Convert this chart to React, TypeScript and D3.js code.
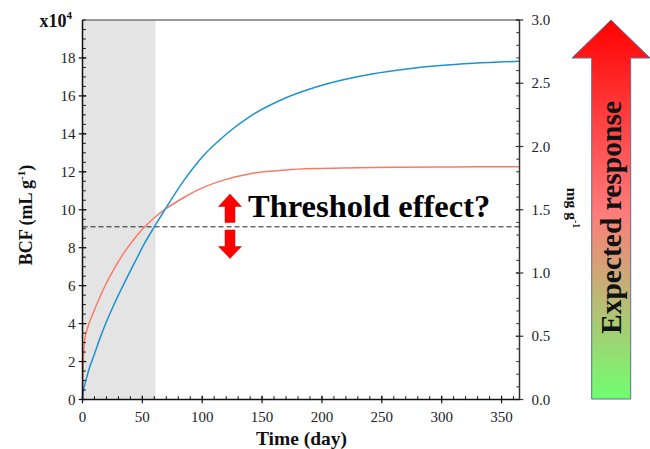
import React from "react";
import * as d3 from "d3";

const timeDays = [0, 0.5, 1, 2, 3.5, 5, 10, 15, 20, 27, 35, 45, 52, 60, 68, 84, 100, 120, 140, 170, 200, 243, 271, 299, 327, 365];
const redSeries = [0, 1.68, 2.52, 3.23, 3.62, 3.92, 4.73, 5.47, 6.14, 6.95, 7.77, 8.6, 9.1, 9.58, 9.98, 10.62, 11.15, 11.6, 11.9, 12.1, 12.18, 12.23, 12.24, 12.25, 12.26, 12.27];
const blueSeries = [0, 0.35, 0.55, 0.8, 1.15, 1.5, 2.4, 3.3, 4.1, 5.1, 6.15, 7.4, 8.25, 9.1, 9.92, 11.48, 12.78, 13.98, 14.92, 15.9, 16.56, 17.17, 17.42, 17.6, 17.72, 17.83];
const xTicks = [0, 50, 100, 150, 200, 250, 300, 350];
const leftTicks = [0, 2, 4, 6, 8, 10, 12, 14, 16, 18];
const rightTicks = [0, 0.5, 1.0, 1.5, 2.0, 2.5, 3.0];
const shadeRange = [0, 61];
const thresholdValue = 9.1;

const FONT = "'Liberation Serif', 'Times New Roman', serif";

export default function App() {
  const L = 82.5, R = 519.5, T = 20, B = 399.5;
  const x = d3.scaleLinear().domain([0, 365]).range([L, R]);
  const y = d3.scaleLinear().domain([0, 20]).range([B, T]);
  const y2 = d3.scaleLinear().domain([0, 3]).range([B, T]);

  const line = (vals: number[]) =>
    d3.line<number>().x((_, i) => x(timeDays[i])).y((v) => y(v)).curve(d3.curveMonotoneX)(vals) || "";

  const xMinor = d3.range(0, 361, 10);
  const yMinor = d3.range(0, 20.01, 0.5);
  const y2Minor = d3.range(0, 3.001, 0.1);

  const arrowPath = "M572,58 L611,20 L650,58 L630.7,58 L630.7,399 L591.7,399 L591.7,58 Z";
  const upArrow = "M230,194 L241.5,206.5 L235,206.5 L235,222.5 L225,222.5 L225,206.5 L218.5,206.5 Z";
  const downArrow = "M225,230 L235,230 L235,246.5 L241.5,246.5 L230,258.5 L218.5,246.5 L225,246.5 Z";

  return (
    <svg width={650} height={449} style={{ position: "absolute", left: 0, top: 0, background: "#fff", fontFamily: FONT }}>
      <defs>
        <linearGradient id="bigGrad" x1="0" y1="0" x2="0" y2="1">
          <stop offset="0" stopColor="#ff0000" />
          <stop offset="0.5" stopColor="#ff7a7a" />
          <stop offset="1" stopColor="#70ff70" />
        </linearGradient>
      </defs>
      {/* shaded region */}
      <rect x={x(shadeRange[0])} y={T} width={x(shadeRange[1]) - x(shadeRange[0])} height={B - T} fill="#e4e4e4" />
      {/* top border */}
      <line x1={L} x2={R} y1={T} y2={T} stroke="#7a7a7a" strokeWidth={1.5} />
      {/* threshold dashed */}
      <line x1={L} x2={R} y1={y(thresholdValue)} y2={y(thresholdValue)} stroke="#222" strokeWidth={1} strokeDasharray="5,3" />
      {/* curves */}
      <path d={line(redSeries)} fill="none" stroke="#fa7a68" strokeWidth={1.5} />
      <path d={line(blueSeries)} fill="none" stroke="#1c93d0" strokeWidth={1.5} />

      {/* left axis */}
      <line x1={L} x2={L} y1={T} y2={B} stroke="#111" strokeWidth={1.5} />
      {yMinor.map((v) => (
        <line key={"lm" + v} x1={L} x2={L + 3.3} y1={y(v)} y2={y(v)} stroke="#111" strokeWidth={1} />
      ))}
      {leftTicks.map((v) => (
        <g key={"l" + v}>
          <line x1={L - 3.8} x2={L + 3.8} y1={y(v)} y2={y(v)} stroke="#111" strokeWidth={1.2} />
          <text x={L - 7} y={y(v)} dy="0.34em" textAnchor="end" fontSize={15} fill="#222" style={{ fontFamily: FONT }}>{v}</text>
        </g>
      ))}
      {/* right axis */}
      <line x1={R} x2={R} y1={T} y2={B} stroke="#333" strokeWidth={1.5} />
      {y2Minor.map((v) => (
        <line key={"rm" + v} x1={R - 3.3} x2={R} y1={y2(v)} y2={y2(v)} stroke="#333" strokeWidth={1} />
      ))}
      {rightTicks.map((v) => (
        <g key={"r" + v}>
          <line x1={R - 3.8} x2={R + 3.8} y1={y2(v)} y2={y2(v)} stroke="#333" strokeWidth={1.2} />
          <text x={R + 12} y={y2(v)} dy="0.34em" textAnchor="start" fontSize={15} fill="#222" style={{ fontFamily: FONT }}>{v.toFixed(1)}</text>
        </g>
      ))}
      {/* bottom axis */}
      <line x1={L} x2={R} y1={B} y2={B} stroke="#111" strokeWidth={1.5} />
      {xMinor.map((v) => (
        <line key={"xm" + v} x1={x(v)} x2={x(v)} y1={B - 3.3} y2={B} stroke="#111" strokeWidth={1} />
      ))}
      {xTicks.map((v) => (
        <g key={"x" + v}>
          <line x1={x(v)} x2={x(v)} y1={B - 3.8} y2={B + 3.8} stroke="#111" strokeWidth={1.2} />
          <text x={x(v)} y={421.5} textAnchor="middle" fontSize={15} fill="#222" style={{ fontFamily: FONT }}>{v}</text>
        </g>
      ))}

      {/* axis titles */}
      <text x={301.5} y={445} textAnchor="middle" fontSize={19.5} fontWeight="bold" fill="#111" style={{ fontFamily: FONT }}>Time (day)</text>
      <text transform="translate(32,215) rotate(-90)" textAnchor="middle" fontSize={18} fontWeight="bold" fill="#111" style={{ fontFamily: FONT }}>
        BCF (mL g<tspan dy="-7" fontSize={11}>-1</tspan><tspan dy="7">)</tspan>
      </text>
      <text x={39.5} y={26.7} fontSize={18} fontWeight="bold" fill="#111" style={{ fontFamily: FONT }}>
        x10<tspan dy="-8" fontSize={11}>4</tspan>
      </text>
      <text transform="translate(567,208) rotate(90)" textAnchor="middle" fontSize={15.5} fontWeight="bold" fill="#111" style={{ fontFamily: FONT }}>
        mg g<tspan dy="-6" fontSize={10}>-1</tspan>
      </text>

      {/* threshold annotation */}
      <path d={upArrow} fill="#ff0000" stroke="#e00000" strokeWidth={0.5} />
      <path d={downArrow} fill="#ff0000" stroke="#e00000" strokeWidth={0.5} />
      <text x={248} y={217} fontSize={32.5} fontWeight="bold" fill="#000" style={{ fontFamily: FONT }}>Threshold effect?</text>

      {/* expected response arrow */}
      <path d={arrowPath} fill="url(#bigGrad)" stroke="#5b6f9c" strokeWidth={1} />
      <text transform="translate(621,217.5) rotate(-90)" textAnchor="middle" fontSize={29.5} fontWeight="bold" fill="#111" style={{ fontFamily: FONT }}>Expected response</text>
    </svg>
  );
}
